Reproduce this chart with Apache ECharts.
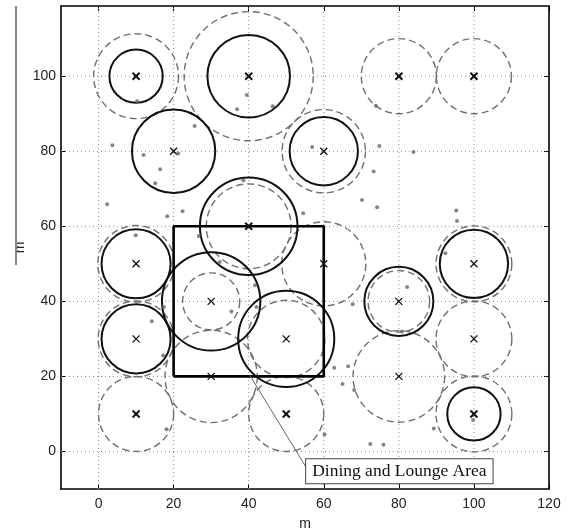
<!DOCTYPE html>
<html>
<head>
<meta charset="utf-8">
<script src="https://cdn.jsdelivr.net/npm/echarts@6/dist/echarts.min.js"></script>
<style>
html,body{margin:0;padding:0;background:#fff;}
#chart{width:575px;height:531px;}
</style>
</head>
<body>
<div id="chart"></div>
<script>
// ---- data ----
const xTicks = [0, 20, 40, 60, 80, 100, 120];
const yTicks = [0, 20, 40, 60, 80, 100];
const gridX = [0, 20, 40, 60, 80, 100];
const gridY = [0, 20, 40, 60, 80, 100];
const xRange = [-10, 120];
const yRange = [-10, 118.7];

// access points: [x, y]
const apBold = [[10,100],[40,100],[80,100],[100,100],[40,60],[10,10],[50,10],[100,10]];
const apThin = [[20,80],[60,80],[10,50],[60,50],[100,50],[30,40],[80,40],[10,30],[50,30],[100,30],[30,20],[80,20]];

// solid coverage circles: [x, y, radius]
const solidCircles = [
  [10,100,7.1],[40,100,11.0],[20,80,11.1],[60,80,9.1],[40,60,13.0],
  [10,50,9.2],[100,50,9.1],[30,40,13.1],[80,40,9.2],[10,30,9.2],
  [50,30,12.8],[100,10,7.1]
];
// dashed coverage circles: [x, y, radius]
const dashedCircles = [
  [10,100,11.3],[40,100,17.2],[80,100,10.0],[100,100,10.0],[60,80,11.1],
  [40,60,11.3],[10,50,10.2],[60,50,11.2],[100,50,10.1],[30,40,7.6],
  [80,40,8.2],[10,30,10.1],[50,30,10.3],[100,30,10.1],[30,20,12.3],
  [80,20,12.2],[10,10,10.0],[50,10,10.0],[100,10,10.1]
];
// users
const users = [
  [39.5,95],[36.9,91.2],[46.4,92],[25.6,86.7],[3.7,81.6],[12,79],[21.2,79.4],
  [16.4,75.2],[15.1,71.5],[2.3,65.9],[18.3,62.7],[22.4,64],[38.6,72.3],[9.9,57.6],
  [26.7,57.4],[10.3,93.3],[73.9,92.1],[56.9,81.1],[74.8,81.4],[83.9,79.8],[73.3,74.6],
  [70.2,67],[74.2,65.1],[54.5,63.5],[95.3,64.2],[95.5,61.4],[92.4,52.8],
  [14.2,34.7],[35.4,37.3],[17.2,25.6],[18.1,5.9],[41.7,44.3],[17.4,38.5],[32.3,50.5],
  [42.1,38.5],[82.2,43.8],[67.7,39.2],[62.8,22.3],[66.5,22.7],[65,18],[68.1,16.4],
  [60.2,4.5],[72.4,2],[75.9,1.8],[89.3,6.1],[99.8,8.4],[80.8,32]
];
// dining room outline
const roomCorners = [[20,20],[60,20],[60,60],[20,60],[20,20]];
const noteText = 'Dining and Lounge Area';
const noteTarget = [40.3, 20.3];
const noteAnchor = [55.3, -2.1];

// ---- chart ----
const chart = echarts.init(document.getElementById('chart'), null, {renderer: 'canvas'});

const axisFont = {fontFamily: '"Liberation Sans", Arial, sans-serif', fontSize: 14, color: '#222'};

function circleItem(stroke, lineWidth, dash) {
  return function (params, api) {
    const c = api.coord([api.value(0), api.value(1)]);
    const r = api.size([api.value(2), 0])[0];
    return {
      type: 'circle',
      shape: {cx: c[0], cy: c[1], r: r},
      style: {fill: 'none', stroke: stroke, lineWidth: lineWidth, lineDash: dash}
    };
  };
}
function markItem(lw) {
  return function (params, api) {
    const c = api.coord([api.value(0), api.value(1)]);
    const h = 3.5;
    const st = {stroke: '#111', lineWidth: lw};
    return {
      type: 'group',
      children: [
        {type: 'line', shape: {x1: c[0]-h, y1: c[1]-h, x2: c[0]+h, y2: c[1]+h}, style: st},
        {type: 'line', shape: {x1: c[0]-h, y1: c[1]+h, x2: c[0]+h, y2: c[1]-h}, style: st}
      ]
    };
  };
}

const option = {
  backgroundColor: '#fff',
  animation: false,
  grid: {left: 61, right: 26, top: 6, bottom: 42, outerBoundsMode: 'none'},
  xAxis: [{
    type: 'value', min: xRange[0], max: xRange[1], position: 'bottom',
    axisLine: {show: true, onZero: false, lineStyle: {color: '#000', width: 1.6}},
    axisTick: {show: true, inside: true, length: 5, customValues: xTicks, lineStyle: {color: '#000'}},
    axisLabel: Object.assign({customValues: xTicks, margin: 8}, axisFont),
    splitLine: {show: false},
    name: 'm', nameLocation: 'middle', nameGap: 28, nameMoveOverlap: false,
    nameTextStyle: axisFont
  }, {
    type: 'value', min: xRange[0], max: xRange[1], position: 'top',
    axisLine: {show: true, onZero: false, lineStyle: {color: '#000', width: 1.6}},
    axisTick: {show: true, inside: true, length: 5, customValues: xTicks, lineStyle: {color: '#000'}},
    axisLabel: {show: false}, splitLine: {show: false}
  }],
  yAxis: [{
    type: 'value', min: yRange[0], max: yRange[1], position: 'left',
    axisLine: {show: true, onZero: false, lineStyle: {color: '#000', width: 1.6}},
    axisTick: {show: true, inside: true, length: 5, customValues: yTicks, lineStyle: {color: '#000'}},
    axisLabel: Object.assign({customValues: yTicks, margin: 5}, axisFont),
    splitLine: {show: false},
    name: 'm', nameLocation: 'middle', nameGap: 34, nameRotate: 90, nameMoveOverlap: false,
    nameTextStyle: axisFont
  }, {
    type: 'value', min: yRange[0], max: yRange[1], position: 'right',
    axisLine: {show: true, onZero: false, lineStyle: {color: '#000', width: 1.6}},
    axisTick: {show: true, inside: true, length: 5, customValues: yTicks, lineStyle: {color: '#000'}},
    axisLabel: {show: false}, splitLine: {show: false}
  }],
  series: [
    {
      type: 'custom', name: 'gridX', xAxisIndex: 0, yAxisIndex: 0, silent: true, z: 1,
      data: gridX.map(v => [v]),
      encode: {x: 0},
      renderItem: function (params, api) {
        const a = api.coord([api.value(0), yRange[0]]);
        const b = api.coord([api.value(0), yRange[1]]);
        return {type: 'line', shape: {x1: a[0], y1: a[1], x2: b[0], y2: b[1]},
          style: {stroke: '#8a8a8a', lineWidth: 1, lineDash: [1, 3]}};
      }
    },
    {
      type: 'custom', name: 'gridY', xAxisIndex: 0, yAxisIndex: 0, silent: true, z: 1,
      data: gridY.map(v => [v]),
      encode: {y: 0},
      renderItem: function (params, api) {
        const a = api.coord([xRange[0], api.value(0)]);
        const b = api.coord([xRange[1], api.value(0)]);
        return {type: 'line', shape: {x1: a[0], y1: a[1], x2: b[0], y2: b[1]},
          style: {stroke: '#8a8a8a', lineWidth: 1, lineDash: [1, 3]}};
      }
    },
    {
      type: 'custom', name: 'dashed', z: 2, clip: false,
      data: dashedCircles, encode: {x: 0, y: 1},
      renderItem: circleItem('#707070', 1.4, [7, 4])
    },
    {
      type: 'custom', name: 'solid', z: 3, clip: false,
      data: solidCircles, encode: {x: 0, y: 1},
      renderItem: circleItem('#111', 2, null)
    },
    {
      type: 'line', name: 'room', z: 4, data: roomCorners, symbol: 'none',
      lineStyle: {color: '#000', width: 2.6}
    },
    {
      type: 'custom', name: 'apBold', z: 5, data: apBold, encode: {x: 0, y: 1},
      renderItem: markItem(2)
    },
    {
      type: 'custom', name: 'apThin', z: 5, data: apThin, encode: {x: 0, y: 1},
      renderItem: markItem(1.3)
    },
    {
      type: 'scatter', name: 'users', z: 6, data: users, symbolSize: 4,
      itemStyle: {color: '#666'}
    }
  ]
};
chart.setOption(option);

const p1 = chart.convertToPixel({gridIndex: 0}, noteTarget);
const p2 = chart.convertToPixel({gridIndex: 0}, noteAnchor);
chart.setOption({
  graphic: [
    {
      type: 'line', z: 50, silent: true,
      shape: {x1: p1[0], y1: p1[1], x2: p2[0], y2: p2[1] + 8},
      style: {stroke: '#666', lineWidth: 1}
    },
    {
      type: 'text', z: 51, silent: true, x: p2[0], y: p2[1],
      style: {
        text: noteText,
        font: '17.5px "Liberation Serif", "Times New Roman", serif',
        fill: '#111',
        backgroundColor: '#fff',
        borderColor: '#444', borderWidth: 1,
        padding: [3, 6, 3, 6]
      }
    },
    {
      type: 'line', z: 50, silent: true,
      shape: {x1: 16, y1: 6, x2: 16, y2: 265},
      style: {stroke: '#888', lineWidth: 2}
    }
  ]
});
</script>
</body>
</html>
